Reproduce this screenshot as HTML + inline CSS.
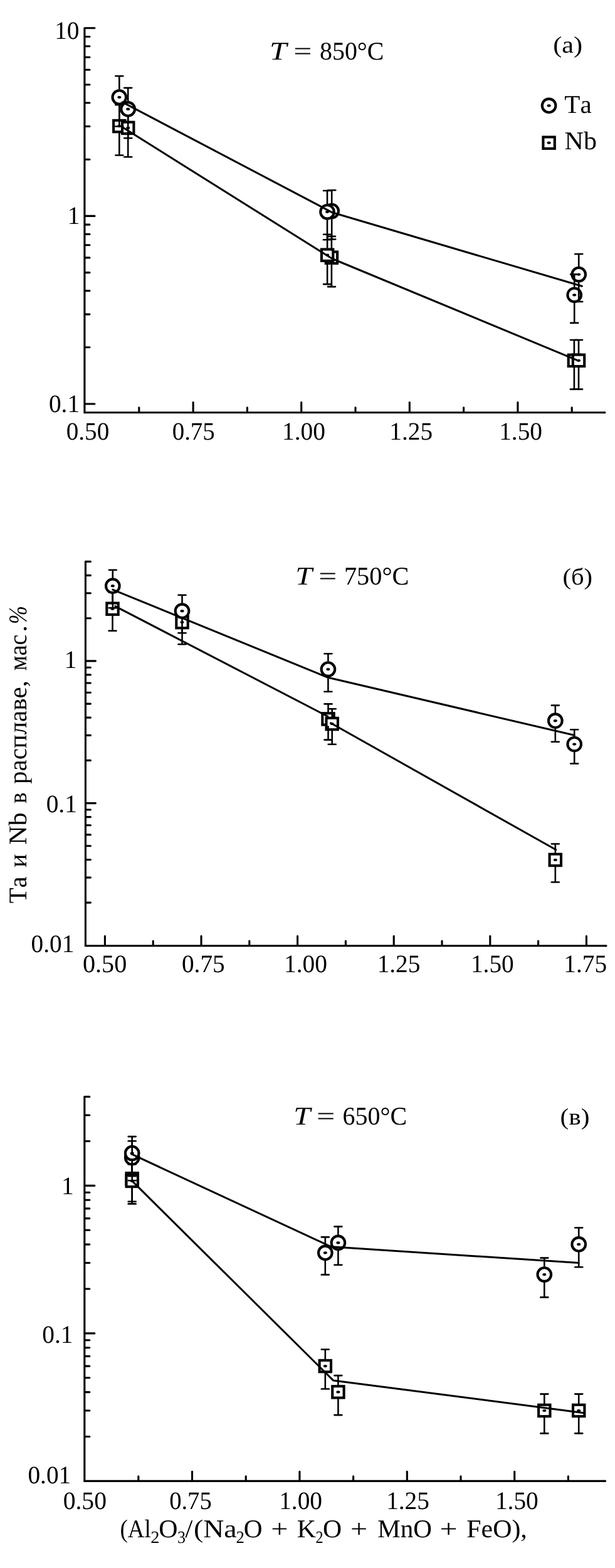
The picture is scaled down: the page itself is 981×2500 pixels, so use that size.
<!DOCTYPE html>
<html lang="ru"><head><meta charset="utf-8"><title>Ta и Nb в расплаве</title>
<style>html,body{margin:0;padding:0;background:#fff}body{width:981px;height:2500px;overflow:hidden}svg{display:block}</style></head>
<body>
<svg width="981" height="2500" viewBox="0 0 981 2500" font-family="'Liberation Serif', serif" fill="#000" style="font-kerning:none;font-variant-ligatures:none" text-rendering="geometricPrecision">
<rect width="981" height="2500" fill="#fff"/>
<path d="M134.9 44.8V657.7H964.9" fill="none" stroke="#000" stroke-width="3.1" stroke-linejoin="miter" stroke-linecap="butt"/>
<line x1="963.9" y1="657.7" x2="964.9" y2="657.7" stroke="#000" stroke-width="3.1" stroke-linecap="round"/>
<line x1="134.9" y1="44.8" x2="150.9" y2="44.8" stroke="#000" stroke-width="3.1" stroke-linecap="round"/>
<line x1="135.9" y1="344.4" x2="150.9" y2="344.4" stroke="#000" stroke-width="3.1" stroke-linecap="round"/>
<line x1="135.9" y1="644.0" x2="150.9" y2="644.0" stroke="#000" stroke-width="3.1" stroke-linecap="round"/>
<line x1="135.9" y1="254.2" x2="142.9" y2="254.2" stroke="#000" stroke-width="3.1" stroke-linecap="round"/>
<line x1="135.9" y1="201.5" x2="142.9" y2="201.5" stroke="#000" stroke-width="3.1" stroke-linecap="round"/>
<line x1="135.9" y1="164.0" x2="142.9" y2="164.0" stroke="#000" stroke-width="3.1" stroke-linecap="round"/>
<line x1="135.9" y1="135.0" x2="142.9" y2="135.0" stroke="#000" stroke-width="3.1" stroke-linecap="round"/>
<line x1="135.9" y1="111.3" x2="142.9" y2="111.3" stroke="#000" stroke-width="3.1" stroke-linecap="round"/>
<line x1="135.9" y1="91.2" x2="142.9" y2="91.2" stroke="#000" stroke-width="3.1" stroke-linecap="round"/>
<line x1="135.9" y1="73.8" x2="142.9" y2="73.8" stroke="#000" stroke-width="3.1" stroke-linecap="round"/>
<line x1="135.9" y1="58.5" x2="142.9" y2="58.5" stroke="#000" stroke-width="3.1" stroke-linecap="round"/>
<line x1="135.9" y1="553.8" x2="142.9" y2="553.8" stroke="#000" stroke-width="3.1" stroke-linecap="round"/>
<line x1="135.9" y1="501.1" x2="142.9" y2="501.1" stroke="#000" stroke-width="3.1" stroke-linecap="round"/>
<line x1="135.9" y1="463.6" x2="142.9" y2="463.6" stroke="#000" stroke-width="3.1" stroke-linecap="round"/>
<line x1="135.9" y1="434.6" x2="142.9" y2="434.6" stroke="#000" stroke-width="3.1" stroke-linecap="round"/>
<line x1="135.9" y1="410.9" x2="142.9" y2="410.9" stroke="#000" stroke-width="3.1" stroke-linecap="round"/>
<line x1="135.9" y1="390.8" x2="142.9" y2="390.8" stroke="#000" stroke-width="3.1" stroke-linecap="round"/>
<line x1="135.9" y1="373.4" x2="142.9" y2="373.4" stroke="#000" stroke-width="3.1" stroke-linecap="round"/>
<line x1="135.9" y1="358.1" x2="142.9" y2="358.1" stroke="#000" stroke-width="3.1" stroke-linecap="round"/>
<line x1="308.1" y1="656.7" x2="308.1" y2="641.5" stroke="#000" stroke-width="3.1" stroke-linecap="round"/>
<line x1="480.7" y1="656.7" x2="480.7" y2="641.5" stroke="#000" stroke-width="3.1" stroke-linecap="round"/>
<line x1="653.3" y1="656.7" x2="653.3" y2="641.5" stroke="#000" stroke-width="3.1" stroke-linecap="round"/>
<line x1="825.9" y1="656.7" x2="825.9" y2="641.5" stroke="#000" stroke-width="3.1" stroke-linecap="round"/>
<line x1="221.8" y1="656.7" x2="221.8" y2="649.7" stroke="#000" stroke-width="3.1" stroke-linecap="round"/>
<line x1="394.4" y1="656.7" x2="394.4" y2="649.7" stroke="#000" stroke-width="3.1" stroke-linecap="round"/>
<line x1="567.0" y1="656.7" x2="567.0" y2="649.7" stroke="#000" stroke-width="3.1" stroke-linecap="round"/>
<line x1="739.6" y1="656.7" x2="739.6" y2="649.7" stroke="#000" stroke-width="3.1" stroke-linecap="round"/>
<line x1="912.2" y1="656.7" x2="912.2" y2="649.7" stroke="#000" stroke-width="3.1" stroke-linecap="round"/>
<text transform="translate(87.18 61.8) scale(0.9830 1)" font-size="40.0">10</text>
<text transform="translate(107.82 356.9) scale(0.9830 1)" font-size="40.0">1</text>
<text transform="translate(77.90 657.4) scale(0.9830 1)" font-size="40.0">0.1</text>
<text transform="translate(105.81 700.5) scale(0.9768 1)" font-size="40.0">0.50</text>
<text transform="translate(274.72 700.5) scale(0.9714 1)" font-size="40.0">0.75</text>
<text transform="translate(449.99 700.5) scale(0.9830 1)" font-size="40.0">1.00</text>
<text transform="translate(621.33 700.5) scale(0.9830 1)" font-size="40.0">1.25</text>
<text transform="translate(796.19 700.5) scale(0.9830 1)" font-size="40.0">1.50</text>
<text transform="translate(429.89 94.5) scale(1.2066 1)" font-size="40.7" font-style="italic">T</text>
<text transform="translate(468.23 94.5) scale(1.2672 1)" font-size="40.7">=</text>
<text transform="translate(510.08 94.5) scale(0.9794 1)" font-size="40.7">850°C</text>
<text transform="translate(882.14 83.9) scale(1.0410 0.925)" font-size="40.7">(a)</text>
<circle cx="875.6" cy="168.4" r="10.8" fill="#fff" stroke="#000" stroke-width="4.1"/>
<ellipse cx="875.6" cy="168.4" rx="3.0" ry="2.1" fill="#000"/>
<text transform="translate(900.26 179.8) scale(1.0112 1)" font-size="40.7">Ta</text>
<rect x="866.4" y="218.5" width="18.4" height="18.4" fill="#fff" stroke="#000" stroke-width="4.1"/>
<ellipse cx="875.6" cy="227.7" rx="3.0" ry="2.1" fill="#000"/>
<text transform="translate(900.59 237.5) scale(1.0336 1)" font-size="40.7">Nb</text>
<rect x="181.1" y="191.9" width="18.4" height="18.4" fill="#fff" stroke="#000" stroke-width="4.1"/>
<ellipse cx="190.3" cy="201.1" rx="3.0" ry="2.1" fill="#000"/>
<rect x="195.0" y="194.7" width="18.4" height="18.4" fill="#fff" stroke="#000" stroke-width="4.1"/>
<ellipse cx="204.2" cy="203.9" rx="3.0" ry="2.1" fill="#000"/>
<rect x="519.7" y="401.5" width="18.4" height="18.4" fill="#fff" stroke="#000" stroke-width="4.1"/>
<ellipse cx="528.9" cy="410.7" rx="3.0" ry="2.1" fill="#000"/>
<rect x="512.9" y="397.5" width="18.4" height="18.4" fill="#fff" stroke="#000" stroke-width="4.1"/>
<ellipse cx="522.1" cy="406.7" rx="3.0" ry="2.1" fill="#000"/>
<rect x="906.7" y="565.6" width="18.4" height="18.4" fill="#fff" stroke="#000" stroke-width="4.1"/>
<ellipse cx="915.9" cy="574.8" rx="3.0" ry="2.1" fill="#000"/>
<rect x="913.8" y="565.6" width="18.4" height="18.4" fill="#fff" stroke="#000" stroke-width="4.1"/>
<ellipse cx="923.0" cy="574.8" rx="3.0" ry="2.1" fill="#000"/>
<line x1="190.3" y1="167.3" x2="190.3" y2="190.2" stroke="#000" stroke-width="2.6" stroke-linecap="butt"/>
<line x1="190.3" y1="212.0" x2="190.3" y2="247.5" stroke="#000" stroke-width="2.6" stroke-linecap="butt"/>
<line x1="184.3" y1="167.3" x2="196.3" y2="167.3" stroke="#000" stroke-width="2.6" stroke-linecap="round"/>
<line x1="184.3" y1="247.5" x2="196.3" y2="247.5" stroke="#000" stroke-width="2.6" stroke-linecap="round"/>
<line x1="204.2" y1="170.1" x2="204.2" y2="193.0" stroke="#000" stroke-width="2.6" stroke-linecap="butt"/>
<line x1="204.2" y1="214.8" x2="204.2" y2="250.3" stroke="#000" stroke-width="2.6" stroke-linecap="butt"/>
<line x1="198.2" y1="170.1" x2="210.2" y2="170.1" stroke="#000" stroke-width="2.6" stroke-linecap="round"/>
<line x1="198.2" y1="250.3" x2="210.2" y2="250.3" stroke="#000" stroke-width="2.6" stroke-linecap="round"/>
<line x1="528.9" y1="376.9" x2="528.9" y2="399.8" stroke="#000" stroke-width="2.6" stroke-linecap="butt"/>
<line x1="528.9" y1="421.6" x2="528.9" y2="457.1" stroke="#000" stroke-width="2.6" stroke-linecap="butt"/>
<line x1="522.9" y1="376.9" x2="534.9" y2="376.9" stroke="#000" stroke-width="2.6" stroke-linecap="round"/>
<line x1="522.9" y1="457.1" x2="534.9" y2="457.1" stroke="#000" stroke-width="2.6" stroke-linecap="round"/>
<line x1="522.1" y1="373.7" x2="522.1" y2="395.8" stroke="#000" stroke-width="2.6" stroke-linecap="butt"/>
<line x1="522.1" y1="417.6" x2="522.1" y2="453.1" stroke="#000" stroke-width="2.6" stroke-linecap="butt"/>
<line x1="516.1" y1="373.7" x2="528.1" y2="373.7" stroke="#000" stroke-width="2.6" stroke-linecap="round"/>
<line x1="516.1" y1="453.1" x2="528.1" y2="453.1" stroke="#000" stroke-width="2.6" stroke-linecap="round"/>
<line x1="915.9" y1="542.0" x2="915.9" y2="563.8" stroke="#000" stroke-width="2.6" stroke-linecap="butt"/>
<line x1="915.9" y1="585.8" x2="915.9" y2="620.6" stroke="#000" stroke-width="2.6" stroke-linecap="butt"/>
<line x1="909.9" y1="542.0" x2="921.9" y2="542.0" stroke="#000" stroke-width="2.6" stroke-linecap="round"/>
<line x1="909.9" y1="620.6" x2="921.9" y2="620.6" stroke="#000" stroke-width="2.6" stroke-linecap="round"/>
<line x1="923.0" y1="542.0" x2="923.0" y2="563.8" stroke="#000" stroke-width="2.6" stroke-linecap="butt"/>
<line x1="923.0" y1="585.8" x2="923.0" y2="620.6" stroke="#000" stroke-width="2.6" stroke-linecap="butt"/>
<line x1="917.0" y1="542.0" x2="929.0" y2="542.0" stroke="#000" stroke-width="2.6" stroke-linecap="round"/>
<line x1="917.0" y1="620.6" x2="929.0" y2="620.6" stroke="#000" stroke-width="2.6" stroke-linecap="round"/>
<circle cx="190.3" cy="155.1" r="10.8" fill="#fff" stroke="#000" stroke-width="4.1"/>
<ellipse cx="190.3" cy="155.1" rx="3.0" ry="2.1" fill="#000"/>
<circle cx="204.2" cy="173.9" r="10.8" fill="#fff" stroke="#000" stroke-width="4.1"/>
<ellipse cx="204.2" cy="173.9" rx="3.0" ry="2.1" fill="#000"/>
<circle cx="529.2" cy="336.6" r="10.8" fill="#fff" stroke="#000" stroke-width="4.1"/>
<ellipse cx="529.2" cy="336.6" rx="3.0" ry="2.1" fill="#000"/>
<circle cx="522.0" cy="337.8" r="10.8" fill="#fff" stroke="#000" stroke-width="4.1"/>
<ellipse cx="522.0" cy="337.8" rx="3.0" ry="2.1" fill="#000"/>
<circle cx="923.2" cy="437.6" r="10.8" fill="#fff" stroke="#000" stroke-width="4.1"/>
<ellipse cx="923.2" cy="437.6" rx="3.0" ry="2.1" fill="#000"/>
<circle cx="916.2" cy="470.3" r="10.8" fill="#fff" stroke="#000" stroke-width="4.1"/>
<ellipse cx="916.2" cy="470.3" rx="3.0" ry="2.1" fill="#000"/>
<line x1="190.3" y1="121.3" x2="190.3" y2="142.5" stroke="#000" stroke-width="2.6" stroke-linecap="butt"/>
<line x1="190.3" y1="167.7" x2="190.3" y2="201.5" stroke="#000" stroke-width="2.6" stroke-linecap="butt"/>
<line x1="184.3" y1="121.3" x2="196.3" y2="121.3" stroke="#000" stroke-width="2.6" stroke-linecap="round"/>
<line x1="184.3" y1="201.5" x2="196.3" y2="201.5" stroke="#000" stroke-width="2.6" stroke-linecap="round"/>
<line x1="204.2" y1="140.1" x2="204.2" y2="161.3" stroke="#000" stroke-width="2.6" stroke-linecap="butt"/>
<line x1="204.2" y1="186.5" x2="204.2" y2="220.3" stroke="#000" stroke-width="2.6" stroke-linecap="butt"/>
<line x1="198.2" y1="140.1" x2="210.2" y2="140.1" stroke="#000" stroke-width="2.6" stroke-linecap="round"/>
<line x1="198.2" y1="220.3" x2="210.2" y2="220.3" stroke="#000" stroke-width="2.6" stroke-linecap="round"/>
<line x1="529.2" y1="303.2" x2="529.2" y2="324.1" stroke="#000" stroke-width="2.6" stroke-linecap="butt"/>
<line x1="529.2" y1="349.2" x2="529.2" y2="381.5" stroke="#000" stroke-width="2.6" stroke-linecap="butt"/>
<line x1="523.2" y1="303.2" x2="535.2" y2="303.2" stroke="#000" stroke-width="2.6" stroke-linecap="round"/>
<line x1="523.2" y1="381.5" x2="535.2" y2="381.5" stroke="#000" stroke-width="2.6" stroke-linecap="round"/>
<line x1="522.0" y1="304.0" x2="522.0" y2="325.2" stroke="#000" stroke-width="2.6" stroke-linecap="butt"/>
<line x1="522.0" y1="350.4" x2="522.0" y2="382.2" stroke="#000" stroke-width="2.6" stroke-linecap="butt"/>
<line x1="516.0" y1="304.0" x2="528.0" y2="304.0" stroke="#000" stroke-width="2.6" stroke-linecap="round"/>
<line x1="516.0" y1="382.2" x2="528.0" y2="382.2" stroke="#000" stroke-width="2.6" stroke-linecap="round"/>
<line x1="923.2" y1="405.0" x2="923.2" y2="425.1" stroke="#000" stroke-width="2.6" stroke-linecap="butt"/>
<line x1="923.2" y1="450.2" x2="923.2" y2="481.0" stroke="#000" stroke-width="2.6" stroke-linecap="butt"/>
<line x1="917.2" y1="405.0" x2="929.2" y2="405.0" stroke="#000" stroke-width="2.6" stroke-linecap="round"/>
<line x1="917.2" y1="481.0" x2="929.2" y2="481.0" stroke="#000" stroke-width="2.6" stroke-linecap="round"/>
<line x1="916.2" y1="437.4" x2="916.2" y2="457.8" stroke="#000" stroke-width="2.6" stroke-linecap="butt"/>
<line x1="916.2" y1="482.9" x2="916.2" y2="514.9" stroke="#000" stroke-width="2.6" stroke-linecap="butt"/>
<line x1="910.2" y1="437.4" x2="922.2" y2="437.4" stroke="#000" stroke-width="2.6" stroke-linecap="round"/>
<line x1="910.2" y1="514.9" x2="922.2" y2="514.9" stroke="#000" stroke-width="2.6" stroke-linecap="round"/>
<path d="M196.9 203.8 L530.0 412.5 L923.0 575.3" fill="none" stroke="#000" stroke-width="3.0" stroke-linejoin="round" stroke-linecap="round"/>
<path d="M195.2 162.8 L530.0 338.8 L928.3 456.3" fill="none" stroke="#000" stroke-width="3.0" stroke-linejoin="round" stroke-linecap="round"/>
<path d="M136.4 895.4V1508.0H967.0" fill="none" stroke="#000" stroke-width="3.1" stroke-linejoin="miter" stroke-linecap="butt"/>
<line x1="966.0" y1="1508.0" x2="967.0" y2="1508.0" stroke="#000" stroke-width="3.1" stroke-linecap="round"/>
<line x1="137.4" y1="1053.9" x2="152.4" y2="1053.9" stroke="#000" stroke-width="3.1" stroke-linecap="round"/>
<line x1="137.4" y1="1280.6" x2="152.4" y2="1280.6" stroke="#000" stroke-width="3.1" stroke-linecap="round"/>
<line x1="137.4" y1="985.7" x2="144.4" y2="985.7" stroke="#000" stroke-width="3.1" stroke-linecap="round"/>
<line x1="137.4" y1="945.7" x2="144.4" y2="945.7" stroke="#000" stroke-width="3.1" stroke-linecap="round"/>
<line x1="137.4" y1="917.4" x2="144.4" y2="917.4" stroke="#000" stroke-width="3.1" stroke-linecap="round"/>
<line x1="136.4" y1="895.4" x2="144.4" y2="895.4" stroke="#000" stroke-width="3.1" stroke-linecap="round"/>
<line x1="137.4" y1="1212.4" x2="144.4" y2="1212.4" stroke="#000" stroke-width="3.1" stroke-linecap="round"/>
<line x1="137.4" y1="1172.4" x2="144.4" y2="1172.4" stroke="#000" stroke-width="3.1" stroke-linecap="round"/>
<line x1="137.4" y1="1144.1" x2="144.4" y2="1144.1" stroke="#000" stroke-width="3.1" stroke-linecap="round"/>
<line x1="137.4" y1="1122.1" x2="144.4" y2="1122.1" stroke="#000" stroke-width="3.1" stroke-linecap="round"/>
<line x1="137.4" y1="1104.2" x2="144.4" y2="1104.2" stroke="#000" stroke-width="3.1" stroke-linecap="round"/>
<line x1="137.4" y1="1089.0" x2="144.4" y2="1089.0" stroke="#000" stroke-width="3.1" stroke-linecap="round"/>
<line x1="137.4" y1="1075.9" x2="144.4" y2="1075.9" stroke="#000" stroke-width="3.1" stroke-linecap="round"/>
<line x1="137.4" y1="1064.3" x2="144.4" y2="1064.3" stroke="#000" stroke-width="3.1" stroke-linecap="round"/>
<line x1="137.4" y1="1439.1" x2="144.4" y2="1439.1" stroke="#000" stroke-width="3.1" stroke-linecap="round"/>
<line x1="137.4" y1="1399.1" x2="144.4" y2="1399.1" stroke="#000" stroke-width="3.1" stroke-linecap="round"/>
<line x1="137.4" y1="1370.8" x2="144.4" y2="1370.8" stroke="#000" stroke-width="3.1" stroke-linecap="round"/>
<line x1="137.4" y1="1348.8" x2="144.4" y2="1348.8" stroke="#000" stroke-width="3.1" stroke-linecap="round"/>
<line x1="137.4" y1="1330.9" x2="144.4" y2="1330.9" stroke="#000" stroke-width="3.1" stroke-linecap="round"/>
<line x1="137.4" y1="1315.7" x2="144.4" y2="1315.7" stroke="#000" stroke-width="3.1" stroke-linecap="round"/>
<line x1="137.4" y1="1302.6" x2="144.4" y2="1302.6" stroke="#000" stroke-width="3.1" stroke-linecap="round"/>
<line x1="137.4" y1="1291.0" x2="144.4" y2="1291.0" stroke="#000" stroke-width="3.1" stroke-linecap="round"/>
<line x1="167.4" y1="1507.0" x2="167.4" y2="1492.6" stroke="#000" stroke-width="3.1" stroke-linecap="round"/>
<line x1="321.0" y1="1507.0" x2="321.0" y2="1492.6" stroke="#000" stroke-width="3.1" stroke-linecap="round"/>
<line x1="474.6" y1="1507.0" x2="474.6" y2="1492.6" stroke="#000" stroke-width="3.1" stroke-linecap="round"/>
<line x1="628.2" y1="1507.0" x2="628.2" y2="1492.6" stroke="#000" stroke-width="3.1" stroke-linecap="round"/>
<line x1="781.8" y1="1507.0" x2="781.8" y2="1492.6" stroke="#000" stroke-width="3.1" stroke-linecap="round"/>
<line x1="935.4" y1="1507.0" x2="935.4" y2="1492.6" stroke="#000" stroke-width="3.1" stroke-linecap="round"/>
<line x1="244.2" y1="1507.0" x2="244.2" y2="1500.4" stroke="#000" stroke-width="3.1" stroke-linecap="round"/>
<line x1="397.8" y1="1507.0" x2="397.8" y2="1500.4" stroke="#000" stroke-width="3.1" stroke-linecap="round"/>
<line x1="551.4" y1="1507.0" x2="551.4" y2="1500.4" stroke="#000" stroke-width="3.1" stroke-linecap="round"/>
<line x1="705.0" y1="1507.0" x2="705.0" y2="1500.4" stroke="#000" stroke-width="3.1" stroke-linecap="round"/>
<line x1="858.6" y1="1507.0" x2="858.6" y2="1500.4" stroke="#000" stroke-width="3.1" stroke-linecap="round"/>
<text transform="translate(102.77 1064.5) scale(0.9830 1)" font-size="40.0">1</text>
<text transform="translate(73.70 1294.9) scale(0.9830 1)" font-size="40.0">0.1</text>
<text transform="translate(49.50 1518.3) scale(0.9830 1)" font-size="40.0">0.01</text>
<text transform="translate(131.97 1549.7) scale(1.0037 1)" font-size="40.0">0.50</text>
<text transform="translate(290.01 1549.7) scale(0.9804 1)" font-size="40.0">0.75</text>
<text transform="translate(452.99 1549.7) scale(0.9830 1)" font-size="40.0">1.00</text>
<text transform="translate(601.63 1549.7) scale(0.9830 1)" font-size="40.0">1.25</text>
<text transform="translate(750.89 1549.7) scale(0.9830 1)" font-size="40.0">1.50</text>
<text transform="translate(899.23 1549.7) scale(0.9830 1)" font-size="40.0">1.75</text>
<text transform="translate(471.27 931.6) scale(1.1753 1)" font-size="40.7" font-style="italic">T</text>
<text transform="translate(508.23 931.6) scale(1.2672 1)" font-size="40.7">=</text>
<text transform="translate(548.94 931.6) scale(0.9905 1)" font-size="40.7">750°C</text>
<text transform="translate(897.42 931.6) scale(0.9969 0.925)" font-size="40.7">(б)</text>
<rect x="170.3" y="961.5" width="18.4" height="18.4" fill="#fff" stroke="#000" stroke-width="4.1"/>
<ellipse cx="179.5" cy="970.7" rx="3.0" ry="2.1" fill="#000"/>
<rect x="281.3" y="982.9" width="18.4" height="18.4" fill="#fff" stroke="#000" stroke-width="4.1"/>
<ellipse cx="290.5" cy="992.1" rx="3.0" ry="2.1" fill="#000"/>
<rect x="514.3" y="1137.2" width="18.4" height="18.4" fill="#fff" stroke="#000" stroke-width="4.1"/>
<ellipse cx="523.5" cy="1146.4" rx="3.0" ry="2.1" fill="#000"/>
<rect x="520.5" y="1144.8" width="18.4" height="18.4" fill="#fff" stroke="#000" stroke-width="4.1"/>
<ellipse cx="529.7" cy="1154.0" rx="3.0" ry="2.1" fill="#000"/>
<rect x="876.6" y="1361.8" width="18.4" height="18.4" fill="#fff" stroke="#000" stroke-width="4.1"/>
<ellipse cx="885.8" cy="1371.0" rx="3.0" ry="2.1" fill="#000"/>
<line x1="179.5" y1="944.2" x2="179.5" y2="959.8" stroke="#000" stroke-width="2.6" stroke-linecap="butt"/>
<line x1="179.5" y1="981.7" x2="179.5" y2="1005.8" stroke="#000" stroke-width="2.6" stroke-linecap="butt"/>
<line x1="173.5" y1="944.2" x2="185.5" y2="944.2" stroke="#000" stroke-width="2.6" stroke-linecap="round"/>
<line x1="173.5" y1="1005.8" x2="185.5" y2="1005.8" stroke="#000" stroke-width="2.6" stroke-linecap="round"/>
<line x1="290.5" y1="966.6" x2="290.5" y2="981.1" stroke="#000" stroke-width="2.6" stroke-linecap="butt"/>
<line x1="290.5" y1="1003.1" x2="290.5" y2="1027.2" stroke="#000" stroke-width="2.6" stroke-linecap="butt"/>
<line x1="284.5" y1="966.6" x2="296.5" y2="966.6" stroke="#000" stroke-width="2.6" stroke-linecap="round"/>
<line x1="284.5" y1="1027.2" x2="296.5" y2="1027.2" stroke="#000" stroke-width="2.6" stroke-linecap="round"/>
<line x1="523.5" y1="1122.4" x2="523.5" y2="1135.5" stroke="#000" stroke-width="2.6" stroke-linecap="butt"/>
<line x1="523.5" y1="1157.4" x2="523.5" y2="1179.6" stroke="#000" stroke-width="2.6" stroke-linecap="butt"/>
<line x1="517.5" y1="1122.4" x2="529.5" y2="1122.4" stroke="#000" stroke-width="2.6" stroke-linecap="round"/>
<line x1="517.5" y1="1179.6" x2="529.5" y2="1179.6" stroke="#000" stroke-width="2.6" stroke-linecap="round"/>
<line x1="529.7" y1="1130.3" x2="529.7" y2="1143.0" stroke="#000" stroke-width="2.6" stroke-linecap="butt"/>
<line x1="529.7" y1="1165.0" x2="529.7" y2="1186.7" stroke="#000" stroke-width="2.6" stroke-linecap="butt"/>
<line x1="523.7" y1="1130.3" x2="535.7" y2="1130.3" stroke="#000" stroke-width="2.6" stroke-linecap="round"/>
<line x1="523.7" y1="1186.7" x2="535.7" y2="1186.7" stroke="#000" stroke-width="2.6" stroke-linecap="round"/>
<line x1="885.8" y1="1345.5" x2="885.8" y2="1360.0" stroke="#000" stroke-width="2.6" stroke-linecap="butt"/>
<line x1="885.8" y1="1382.0" x2="885.8" y2="1406.5" stroke="#000" stroke-width="2.6" stroke-linecap="butt"/>
<line x1="879.8" y1="1345.5" x2="891.8" y2="1345.5" stroke="#000" stroke-width="2.6" stroke-linecap="round"/>
<line x1="879.8" y1="1406.5" x2="891.8" y2="1406.5" stroke="#000" stroke-width="2.6" stroke-linecap="round"/>
<circle cx="179.8" cy="934.2" r="10.8" fill="#fff" stroke="#000" stroke-width="4.1"/>
<ellipse cx="179.8" cy="934.2" rx="3.0" ry="2.1" fill="#000"/>
<circle cx="290.5" cy="974.2" r="10.8" fill="#fff" stroke="#000" stroke-width="4.1"/>
<ellipse cx="290.5" cy="974.2" rx="3.0" ry="2.1" fill="#000"/>
<circle cx="523.4" cy="1067.1" r="10.8" fill="#fff" stroke="#000" stroke-width="4.1"/>
<ellipse cx="523.4" cy="1067.1" rx="3.0" ry="2.1" fill="#000"/>
<circle cx="885.8" cy="1149.2" r="10.8" fill="#fff" stroke="#000" stroke-width="4.1"/>
<ellipse cx="885.8" cy="1149.2" rx="3.0" ry="2.1" fill="#000"/>
<circle cx="916.2" cy="1186.5" r="10.8" fill="#fff" stroke="#000" stroke-width="4.1"/>
<ellipse cx="916.2" cy="1186.5" rx="3.0" ry="2.1" fill="#000"/>
<line x1="179.8" y1="908.7" x2="179.8" y2="921.7" stroke="#000" stroke-width="2.6" stroke-linecap="butt"/>
<line x1="179.8" y1="946.8" x2="179.8" y2="969.3" stroke="#000" stroke-width="2.6" stroke-linecap="butt"/>
<line x1="173.8" y1="908.7" x2="185.8" y2="908.7" stroke="#000" stroke-width="2.6" stroke-linecap="round"/>
<line x1="173.8" y1="969.3" x2="185.8" y2="969.3" stroke="#000" stroke-width="2.6" stroke-linecap="round"/>
<line x1="290.5" y1="948.7" x2="290.5" y2="961.7" stroke="#000" stroke-width="2.6" stroke-linecap="butt"/>
<line x1="290.5" y1="986.8" x2="290.5" y2="1009.3" stroke="#000" stroke-width="2.6" stroke-linecap="butt"/>
<line x1="284.5" y1="948.7" x2="296.5" y2="948.7" stroke="#000" stroke-width="2.6" stroke-linecap="round"/>
<line x1="284.5" y1="1009.3" x2="296.5" y2="1009.3" stroke="#000" stroke-width="2.6" stroke-linecap="round"/>
<line x1="523.4" y1="1042.3" x2="523.4" y2="1054.5" stroke="#000" stroke-width="2.6" stroke-linecap="butt"/>
<line x1="523.4" y1="1079.6" x2="523.4" y2="1102.8" stroke="#000" stroke-width="2.6" stroke-linecap="butt"/>
<line x1="517.4" y1="1042.3" x2="529.4" y2="1042.3" stroke="#000" stroke-width="2.6" stroke-linecap="round"/>
<line x1="517.4" y1="1102.8" x2="529.4" y2="1102.8" stroke="#000" stroke-width="2.6" stroke-linecap="round"/>
<line x1="885.8" y1="1124.6" x2="885.8" y2="1136.7" stroke="#000" stroke-width="2.6" stroke-linecap="butt"/>
<line x1="885.8" y1="1161.8" x2="885.8" y2="1182.8" stroke="#000" stroke-width="2.6" stroke-linecap="butt"/>
<line x1="879.8" y1="1124.6" x2="891.8" y2="1124.6" stroke="#000" stroke-width="2.6" stroke-linecap="round"/>
<line x1="879.8" y1="1182.8" x2="891.8" y2="1182.8" stroke="#000" stroke-width="2.6" stroke-linecap="round"/>
<line x1="916.2" y1="1163.3" x2="916.2" y2="1174.0" stroke="#000" stroke-width="2.6" stroke-linecap="butt"/>
<line x1="916.2" y1="1199.0" x2="916.2" y2="1217.5" stroke="#000" stroke-width="2.6" stroke-linecap="butt"/>
<line x1="910.2" y1="1163.3" x2="922.2" y2="1163.3" stroke="#000" stroke-width="2.6" stroke-linecap="round"/>
<line x1="910.2" y1="1217.5" x2="922.2" y2="1217.5" stroke="#000" stroke-width="2.6" stroke-linecap="round"/>
<path d="M183.8 966.6 L522.6 1142.2" fill="none" stroke="#000" stroke-width="3.0" stroke-linejoin="round" stroke-linecap="round"/>
<path d="M527.5 1152.8 L886.7 1354.8" fill="none" stroke="#000" stroke-width="3.0" stroke-linejoin="round" stroke-linecap="round"/>
<path d="M179.8 940.1 L523.4 1080.3 L916.2 1172.3" fill="none" stroke="#000" stroke-width="3.0" stroke-linejoin="round" stroke-linecap="round"/>
<text transform="translate(42.1 1440.23) rotate(-90) scale(0.9992 1)" font-size="40.7">Ta</text>
<text transform="translate(42.1 1383.02) rotate(-90) scale(0.9805 1)" font-size="40.7">и</text>
<text transform="translate(42.1 1347.12) rotate(-90) scale(1.0379 1)" font-size="40.7">Nb</text>
<text transform="translate(42.1 1281.07) rotate(-90) scale(0.9128 1)" font-size="40.7">в</text>
<text transform="translate(42.1 1249.96) rotate(-90) scale(1.0051 1)" font-size="40.7">расплаве,</text>
<text transform="translate(42.1 1069.27) rotate(-90) scale(0.9313 1)" font-size="40.7">мас</text>
<text transform="translate(42.1 1007.85) rotate(-90) scale(1.0605 1)" font-size="40.7">.</text>
<text transform="translate(42.1 994.98) rotate(-90) scale(0.8512 1)" font-size="40.7" font-style="italic">%</text>
<path d="M134.8 1748.6V2361.4H965.5" fill="none" stroke="#000" stroke-width="3.1" stroke-linejoin="miter" stroke-linecap="butt"/>
<line x1="964.5" y1="2361.4" x2="965.5" y2="2361.4" stroke="#000" stroke-width="3.1" stroke-linecap="round"/>
<line x1="135.8" y1="1890.4" x2="150.8" y2="1890.4" stroke="#000" stroke-width="3.1" stroke-linecap="round"/>
<line x1="135.8" y1="2125.9" x2="150.8" y2="2125.9" stroke="#000" stroke-width="3.1" stroke-linecap="round"/>
<line x1="135.8" y1="1819.5" x2="142.8" y2="1819.5" stroke="#000" stroke-width="3.1" stroke-linecap="round"/>
<line x1="135.8" y1="1778.0" x2="142.8" y2="1778.0" stroke="#000" stroke-width="3.1" stroke-linecap="round"/>
<line x1="134.8" y1="1748.6" x2="142.8" y2="1748.6" stroke="#000" stroke-width="3.1" stroke-linecap="round"/>
<line x1="135.8" y1="2055.0" x2="142.8" y2="2055.0" stroke="#000" stroke-width="3.1" stroke-linecap="round"/>
<line x1="135.8" y1="2013.5" x2="142.8" y2="2013.5" stroke="#000" stroke-width="3.1" stroke-linecap="round"/>
<line x1="135.8" y1="1984.1" x2="142.8" y2="1984.1" stroke="#000" stroke-width="3.1" stroke-linecap="round"/>
<line x1="135.8" y1="1961.3" x2="142.8" y2="1961.3" stroke="#000" stroke-width="3.1" stroke-linecap="round"/>
<line x1="135.8" y1="1942.6" x2="142.8" y2="1942.6" stroke="#000" stroke-width="3.1" stroke-linecap="round"/>
<line x1="135.8" y1="1926.9" x2="142.8" y2="1926.9" stroke="#000" stroke-width="3.1" stroke-linecap="round"/>
<line x1="135.8" y1="1913.2" x2="142.8" y2="1913.2" stroke="#000" stroke-width="3.1" stroke-linecap="round"/>
<line x1="135.8" y1="1901.2" x2="142.8" y2="1901.2" stroke="#000" stroke-width="3.1" stroke-linecap="round"/>
<line x1="135.8" y1="2290.5" x2="142.8" y2="2290.5" stroke="#000" stroke-width="3.1" stroke-linecap="round"/>
<line x1="135.8" y1="2249.0" x2="142.8" y2="2249.0" stroke="#000" stroke-width="3.1" stroke-linecap="round"/>
<line x1="135.8" y1="2219.6" x2="142.8" y2="2219.6" stroke="#000" stroke-width="3.1" stroke-linecap="round"/>
<line x1="135.8" y1="2196.8" x2="142.8" y2="2196.8" stroke="#000" stroke-width="3.1" stroke-linecap="round"/>
<line x1="135.8" y1="2178.1" x2="142.8" y2="2178.1" stroke="#000" stroke-width="3.1" stroke-linecap="round"/>
<line x1="135.8" y1="2162.4" x2="142.8" y2="2162.4" stroke="#000" stroke-width="3.1" stroke-linecap="round"/>
<line x1="135.8" y1="2148.7" x2="142.8" y2="2148.7" stroke="#000" stroke-width="3.1" stroke-linecap="round"/>
<line x1="135.8" y1="2136.7" x2="142.8" y2="2136.7" stroke="#000" stroke-width="3.1" stroke-linecap="round"/>
<line x1="306.5" y1="2360.4" x2="306.5" y2="2346.2" stroke="#000" stroke-width="3.1" stroke-linecap="round"/>
<line x1="477.9" y1="2360.4" x2="477.9" y2="2346.2" stroke="#000" stroke-width="3.1" stroke-linecap="round"/>
<line x1="649.3" y1="2360.4" x2="649.3" y2="2346.2" stroke="#000" stroke-width="3.1" stroke-linecap="round"/>
<line x1="820.7" y1="2360.4" x2="820.7" y2="2346.2" stroke="#000" stroke-width="3.1" stroke-linecap="round"/>
<line x1="220.8" y1="2360.4" x2="220.8" y2="2353.9" stroke="#000" stroke-width="3.1" stroke-linecap="round"/>
<line x1="392.2" y1="2360.4" x2="392.2" y2="2353.9" stroke="#000" stroke-width="3.1" stroke-linecap="round"/>
<line x1="563.6" y1="2360.4" x2="563.6" y2="2353.9" stroke="#000" stroke-width="3.1" stroke-linecap="round"/>
<line x1="735.0" y1="2360.4" x2="735.0" y2="2353.9" stroke="#000" stroke-width="3.1" stroke-linecap="round"/>
<line x1="906.4" y1="2360.4" x2="906.4" y2="2353.9" stroke="#000" stroke-width="3.1" stroke-linecap="round"/>
<text transform="translate(97.92 1903.9) scale(0.9830 1)" font-size="40.0">1</text>
<text transform="translate(67.30 2140.9) scale(0.9830 1)" font-size="40.0">0.1</text>
<text transform="translate(44.40 2365.0) scale(0.9830 1)" font-size="40.0">0.01</text>
<text transform="translate(100.69 2405.5) scale(0.9888 1)" font-size="40.0">0.50</text>
<text transform="translate(270.13 2405.5) scale(0.9654 1)" font-size="40.0">0.75</text>
<text transform="translate(445.19 2405.5) scale(0.9830 1)" font-size="40.0">1.00</text>
<text transform="translate(616.13 2405.5) scale(0.9830 1)" font-size="40.0">1.25</text>
<text transform="translate(789.89 2405.5) scale(0.9830 1)" font-size="40.0">1.50</text>
<text transform="translate(468.15 1793.1) scale(1.1842 1)" font-size="40.7" font-style="italic">T</text>
<text transform="translate(504.91 1793.1) scale(1.2778 1)" font-size="40.7">=</text>
<text transform="translate(546.58 1793.1) scale(0.9813 1)" font-size="40.7">650°C</text>
<text transform="translate(893.59 1793.3) scale(1.0129 0.925)" font-size="40.7">(в)</text>
<rect x="201.5" y="1870.1" width="18.4" height="18.4" fill="#fff" stroke="#000" stroke-width="4.1"/>
<ellipse cx="210.7" cy="1879.3" rx="3.0" ry="2.1" fill="#000"/>
<rect x="201.5" y="1873.7" width="18.4" height="18.4" fill="#fff" stroke="#000" stroke-width="4.1"/>
<ellipse cx="210.7" cy="1882.9" rx="3.0" ry="2.1" fill="#000"/>
<rect x="509.6" y="2168.9" width="18.4" height="18.4" fill="#fff" stroke="#000" stroke-width="4.1"/>
<ellipse cx="518.8" cy="2178.1" rx="3.0" ry="2.1" fill="#000"/>
<rect x="530.2" y="2210.2" width="18.4" height="18.4" fill="#fff" stroke="#000" stroke-width="4.1"/>
<ellipse cx="539.4" cy="2219.4" rx="3.0" ry="2.1" fill="#000"/>
<rect x="859.1" y="2239.8" width="18.4" height="18.4" fill="#fff" stroke="#000" stroke-width="4.1"/>
<ellipse cx="868.3" cy="2249.0" rx="3.0" ry="2.1" fill="#000"/>
<rect x="914.0" y="2239.8" width="18.4" height="18.4" fill="#fff" stroke="#000" stroke-width="4.1"/>
<ellipse cx="923.2" cy="2249.0" rx="3.0" ry="2.1" fill="#000"/>
<line x1="210.7" y1="1852.8" x2="210.7" y2="1868.3" stroke="#000" stroke-width="2.6" stroke-linecap="butt"/>
<line x1="210.7" y1="1890.2" x2="210.7" y2="1915.8" stroke="#000" stroke-width="2.6" stroke-linecap="butt"/>
<line x1="204.7" y1="1852.8" x2="216.7" y2="1852.8" stroke="#000" stroke-width="2.6" stroke-linecap="round"/>
<line x1="204.7" y1="1915.8" x2="216.7" y2="1915.8" stroke="#000" stroke-width="2.6" stroke-linecap="round"/>
<line x1="210.7" y1="1856.4" x2="210.7" y2="1872.0" stroke="#000" stroke-width="2.6" stroke-linecap="butt"/>
<line x1="210.7" y1="1893.9" x2="210.7" y2="1919.4" stroke="#000" stroke-width="2.6" stroke-linecap="butt"/>
<line x1="204.7" y1="1856.4" x2="216.7" y2="1856.4" stroke="#000" stroke-width="2.6" stroke-linecap="round"/>
<line x1="204.7" y1="1919.4" x2="216.7" y2="1919.4" stroke="#000" stroke-width="2.6" stroke-linecap="round"/>
<line x1="518.8" y1="2151.5" x2="518.8" y2="2167.2" stroke="#000" stroke-width="2.6" stroke-linecap="butt"/>
<line x1="518.8" y1="2189.0" x2="518.8" y2="2214.5" stroke="#000" stroke-width="2.6" stroke-linecap="butt"/>
<line x1="512.8" y1="2151.5" x2="524.8" y2="2151.5" stroke="#000" stroke-width="2.6" stroke-linecap="round"/>
<line x1="512.8" y1="2214.5" x2="524.8" y2="2214.5" stroke="#000" stroke-width="2.6" stroke-linecap="round"/>
<line x1="539.4" y1="2193.1" x2="539.4" y2="2208.5" stroke="#000" stroke-width="2.6" stroke-linecap="butt"/>
<line x1="539.4" y1="2230.3" x2="539.4" y2="2256.1" stroke="#000" stroke-width="2.6" stroke-linecap="butt"/>
<line x1="533.4" y1="2193.1" x2="545.4" y2="2193.1" stroke="#000" stroke-width="2.6" stroke-linecap="round"/>
<line x1="533.4" y1="2256.1" x2="545.4" y2="2256.1" stroke="#000" stroke-width="2.6" stroke-linecap="round"/>
<line x1="868.3" y1="2222.6" x2="868.3" y2="2238.1" stroke="#000" stroke-width="2.6" stroke-linecap="butt"/>
<line x1="868.3" y1="2259.9" x2="868.3" y2="2285.4" stroke="#000" stroke-width="2.6" stroke-linecap="butt"/>
<line x1="862.3" y1="2222.6" x2="874.3" y2="2222.6" stroke="#000" stroke-width="2.6" stroke-linecap="round"/>
<line x1="862.3" y1="2285.4" x2="874.3" y2="2285.4" stroke="#000" stroke-width="2.6" stroke-linecap="round"/>
<line x1="923.2" y1="2222.6" x2="923.2" y2="2238.1" stroke="#000" stroke-width="2.6" stroke-linecap="butt"/>
<line x1="923.2" y1="2259.9" x2="923.2" y2="2285.4" stroke="#000" stroke-width="2.6" stroke-linecap="butt"/>
<line x1="917.2" y1="2222.6" x2="929.2" y2="2222.6" stroke="#000" stroke-width="2.6" stroke-linecap="round"/>
<line x1="917.2" y1="2285.4" x2="929.2" y2="2285.4" stroke="#000" stroke-width="2.6" stroke-linecap="round"/>
<circle cx="210.7" cy="1845.7" r="10.8" fill="#fff" stroke="#000" stroke-width="4.1"/>
<ellipse cx="210.7" cy="1845.7" rx="3.0" ry="2.1" fill="#000"/>
<circle cx="210.7" cy="1838.6" r="10.8" fill="#fff" stroke="#000" stroke-width="4.1"/>
<ellipse cx="210.7" cy="1838.6" rx="3.0" ry="2.1" fill="#000"/>
<circle cx="518.8" cy="1997.4" r="10.8" fill="#fff" stroke="#000" stroke-width="4.1"/>
<ellipse cx="518.8" cy="1997.4" rx="3.0" ry="2.1" fill="#000"/>
<circle cx="539.4" cy="1981.4" r="10.8" fill="#fff" stroke="#000" stroke-width="4.1"/>
<ellipse cx="539.4" cy="1981.4" rx="3.0" ry="2.1" fill="#000"/>
<circle cx="868.3" cy="2032.1" r="10.8" fill="#fff" stroke="#000" stroke-width="4.1"/>
<ellipse cx="868.3" cy="2032.1" rx="3.0" ry="2.1" fill="#000"/>
<circle cx="923.2" cy="1983.9" r="10.8" fill="#fff" stroke="#000" stroke-width="4.1"/>
<ellipse cx="923.2" cy="1983.9" rx="3.0" ry="2.1" fill="#000"/>
<line x1="210.7" y1="1819.2" x2="210.7" y2="1833.2" stroke="#000" stroke-width="2.6" stroke-linecap="butt"/>
<line x1="210.7" y1="1858.2" x2="210.7" y2="1882.2" stroke="#000" stroke-width="2.6" stroke-linecap="butt"/>
<line x1="204.7" y1="1819.2" x2="216.7" y2="1819.2" stroke="#000" stroke-width="2.6" stroke-linecap="round"/>
<line x1="204.7" y1="1882.2" x2="216.7" y2="1882.2" stroke="#000" stroke-width="2.6" stroke-linecap="round"/>
<line x1="210.7" y1="1812.1" x2="210.7" y2="1826.0" stroke="#000" stroke-width="2.6" stroke-linecap="butt"/>
<line x1="210.7" y1="1851.1" x2="210.7" y2="1875.1" stroke="#000" stroke-width="2.6" stroke-linecap="butt"/>
<line x1="204.7" y1="1812.1" x2="216.7" y2="1812.1" stroke="#000" stroke-width="2.6" stroke-linecap="round"/>
<line x1="204.7" y1="1875.1" x2="216.7" y2="1875.1" stroke="#000" stroke-width="2.6" stroke-linecap="round"/>
<line x1="518.8" y1="1972.4" x2="518.8" y2="1984.9" stroke="#000" stroke-width="2.6" stroke-linecap="butt"/>
<line x1="518.8" y1="2010.0" x2="518.8" y2="2032.4" stroke="#000" stroke-width="2.6" stroke-linecap="butt"/>
<line x1="512.8" y1="1972.4" x2="524.8" y2="1972.4" stroke="#000" stroke-width="2.6" stroke-linecap="round"/>
<line x1="512.8" y1="2032.4" x2="524.8" y2="2032.4" stroke="#000" stroke-width="2.6" stroke-linecap="round"/>
<line x1="539.4" y1="1955.6" x2="539.4" y2="1968.9" stroke="#000" stroke-width="2.6" stroke-linecap="butt"/>
<line x1="539.4" y1="1994.0" x2="539.4" y2="2016.8" stroke="#000" stroke-width="2.6" stroke-linecap="butt"/>
<line x1="533.4" y1="1955.6" x2="545.4" y2="1955.6" stroke="#000" stroke-width="2.6" stroke-linecap="round"/>
<line x1="533.4" y1="2016.8" x2="545.4" y2="2016.8" stroke="#000" stroke-width="2.6" stroke-linecap="round"/>
<line x1="868.3" y1="2005.6" x2="868.3" y2="2019.5" stroke="#000" stroke-width="2.6" stroke-linecap="butt"/>
<line x1="868.3" y1="2044.6" x2="868.3" y2="2068.4" stroke="#000" stroke-width="2.6" stroke-linecap="butt"/>
<line x1="862.3" y1="2005.6" x2="874.3" y2="2005.6" stroke="#000" stroke-width="2.6" stroke-linecap="round"/>
<line x1="862.3" y1="2068.4" x2="874.3" y2="2068.4" stroke="#000" stroke-width="2.6" stroke-linecap="round"/>
<line x1="923.2" y1="1957.5" x2="923.2" y2="1971.4" stroke="#000" stroke-width="2.6" stroke-linecap="butt"/>
<line x1="923.2" y1="1996.5" x2="923.2" y2="2020.3" stroke="#000" stroke-width="2.6" stroke-linecap="butt"/>
<line x1="917.2" y1="1957.5" x2="929.2" y2="1957.5" stroke="#000" stroke-width="2.6" stroke-linecap="round"/>
<line x1="917.2" y1="2020.3" x2="929.2" y2="2020.3" stroke="#000" stroke-width="2.6" stroke-linecap="round"/>
<path d="M210.7 1882.9 L531.6 2200.9 L930.9 2252.8" fill="none" stroke="#000" stroke-width="3.0" stroke-linejoin="round" stroke-linecap="round"/>
<path d="M209.5 1839.9 L528.3 1987.8 L923.2 2013.5" fill="none" stroke="#000" stroke-width="3.0" stroke-linejoin="round" stroke-linecap="round"/>
<line x1="210.7" y1="1832.5" x2="210.7" y2="1838.6" stroke="#000" stroke-width="2.6" stroke-linecap="butt"/>
<text transform="translate(191.58 2451.2) scale(0.9061 1)" font-size="40.7">(Al</text>
<text transform="translate(240.15 2459.7) scale(1.0341 1)" font-size="27.5">2</text>
<text transform="translate(253.18 2451.2) scale(1.0287 1)" font-size="40.7">O</text>
<text transform="translate(282.96 2459.7) scale(0.9419 1)" font-size="27.5">3</text>
<text transform="translate(295.30 2451.2) scale(1.0701 1)" font-size="40.7">/</text>
<text transform="translate(308.89 2451.2) scale(1.1250 1)" font-size="40.7">(Na</text>
<text transform="translate(376.43 2459.7) scale(0.9706 1)" font-size="27.5">2</text>
<text transform="translate(388.81 2451.2) scale(1.0133 1)" font-size="40.7">O</text>
<text transform="translate(432.29 2451.2) scale(1.1880 1)" font-size="40.7">+</text>
<text transform="translate(473.79 2451.2) scale(1.0287 1)" font-size="40.7">K</text>
<text transform="translate(503.54 2459.7) scale(0.8799 1)" font-size="27.5">2</text>
<text transform="translate(515.09 2451.2) scale(1.0248 1)" font-size="40.7">O</text>
<text transform="translate(559.00 2451.2) scale(1.1827 1)" font-size="40.7">+</text>
<text transform="translate(602.32 2451.2) scale(1.0086 1)" font-size="40.7">MnO</text>
<text transform="translate(701.62 2451.2) scale(1.2250 1)" font-size="40.7">+</text>
<text transform="translate(744.29 2451.2) scale(1.0290 1)" font-size="40.7">FeO),</text>
</svg>
</body></html>
